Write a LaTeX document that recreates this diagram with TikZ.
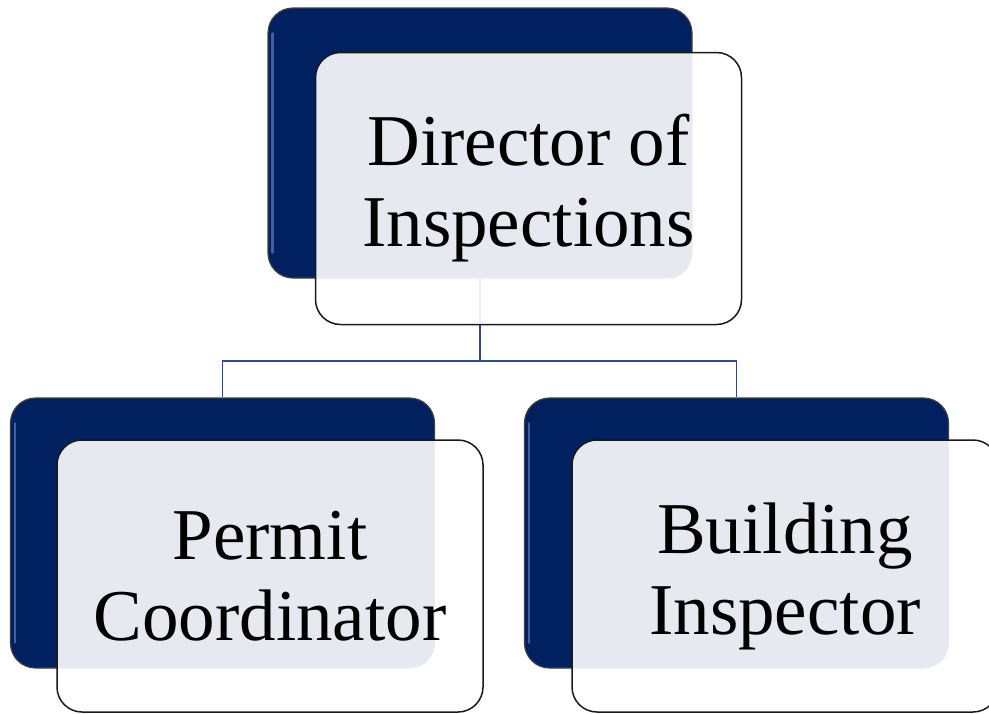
\documentclass[tikz,border=0pt]{standalone}
\usepackage{fontspec}
\setmainfont{Liberation Serif}
\usetikzlibrary{calc}
\definecolor{navy}{HTML}{002060}
\definecolor{conncol}{HTML}{2E4A8C}
\definecolor{gloss}{HTML}{5A7BC0}
\begin{document}
\begin{tikzpicture}[x=1pt,y=-1pt,
  backbox/.style={draw=black!75,line width=1.2pt,fill=navy,rounded corners=25pt,
    minimum width=424pt,minimum height=270pt,inner sep=0pt},
  frontbox/.style={draw=black!90,line width=1.5pt,fill=white,fill opacity=0.9,text opacity=1,
    rounded corners=25pt,minimum width=426pt,minimum height=272pt,inner sep=0pt,
    align=center,font=\fontsize{73}{81}\selectfont},
  conn/.style={draw=conncol,line width=1.6pt},
  shine/.style={draw=gloss,line width=2.5pt,opacity=0.7,line cap=round}]
\useasboundingbox (0,0) rectangle (989,713);
% back boxes
\node[backbox] (b0) at (480,143) {};
\node[backbox] (b1) at (222.5,533) {};
\node[backbox] (b2) at (736.5,533) {};
% glossy highlights
\foreach \b in {b0,b1,b2}{
  \draw[shine] ([xshift=5pt,yshift=-26pt]\b.north west) -- ([xshift=5pt,yshift=26pt]\b.south west);
}
% connectors
\coordinate (j) at (480,361);
\draw[conn] (b0.south) -- (b0.south |- j) -| (b1.north);
\draw[conn] (b0.south |- j) -| (b2.north);
% front boxes
\node[frontbox] (f0) at (528.5,188.5) {Director of\\Inspections};
\node[frontbox] (f1) at (270,576) {Permit\\Coordinator};
\node[frontbox] (f2) at (785,576) {Building\\Inspector};
\end{tikzpicture}
\end{document}
